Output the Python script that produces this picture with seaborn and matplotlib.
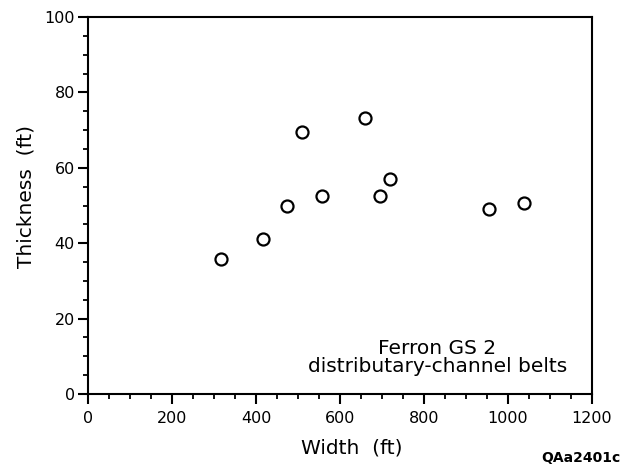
import matplotlib
matplotlib.use("Agg")
import matplotlib.pyplot as plt
import seaborn as sns
import pandas as pd
from matplotlib.ticker import MultipleLocator

width_ft = [317, 416, 474, 510, 556, 659, 695, 719, 955, 1038]
thickness_ft = [35.8, 41.0, 50.0, 69.6, 52.6, 73.1, 52.6, 57.0, 49.0, 50.6]
x_ticks = [0, 200, 400, 600, 800, 1000, 1200]
y_ticks = [0, 20, 40, 60, 80, 100]

df = pd.DataFrame({"Width": width_ft, "Thickness": thickness_ft})

sns.set_theme(style="ticks")
plt.rcParams["font.family"] = ["DejaVu Sans"]

fig = plt.figure(figsize=(6.24, 4.70), dpi=100)
ax = fig.add_axes([88/624, 76/470, (592-88)/624, (394-17)/470])

sns.scatterplot(data=df, x="Width", y="Thickness", ax=ax, marker="o",
                s=75, facecolor="white", edgecolor="black", linewidth=1.6,
                zorder=3, legend=False, clip_on=False)

ax.set_xlim(0, 1200)
ax.set_ylim(0, 100)
ax.set_xticks(x_ticks)
ax.set_yticks(y_ticks)
ax.xaxis.set_minor_locator(MultipleLocator(50))
ax.yaxis.set_minor_locator(MultipleLocator(5))
ax.tick_params(axis="both", which="major", direction="out", length=7.5, width=1.5,
               labelsize=11.5, color="black", labelcolor="black")
ax.tick_params(axis="x", which="major", pad=5)
ax.tick_params(axis="y", which="major", pad=2)
ax.tick_params(axis="both", which="minor", direction="out", length=3.6, width=1.3,
               color="black")
ax.tick_params(top=False, right=False, which="both")
for sp in ax.spines.values():
    sp.set_visible(True)
    sp.set_color("black")
    sp.set_linewidth(1.5)

ax.set_xlabel("Width  (ft)", fontsize=14.5, color="black", va="baseline")
ax.xaxis.set_label_coords(0.524, -0.159)
ax.set_ylabel("Thickness  (ft)", fontsize=14.5, color="black")
ax.yaxis.set_label_coords(-0.105, 0.523)

ax.text(0.693, 0.106, "Ferron GS 2", transform=ax.transAxes,
        ha="center", va="baseline", fontsize=14.5, color="black")
ax.text(0.693, 0.058, "distributary-channel belts", transform=ax.transAxes,
        ha="center", va="baseline", fontsize=14.5, color="black")

fig.text(621/624, (470-462)/470, "QAa2401c", ha="right", va="baseline",
         fontsize=10, fontweight="bold", color="black")

fig.savefig("out.png", dpi=100, facecolor="white")
